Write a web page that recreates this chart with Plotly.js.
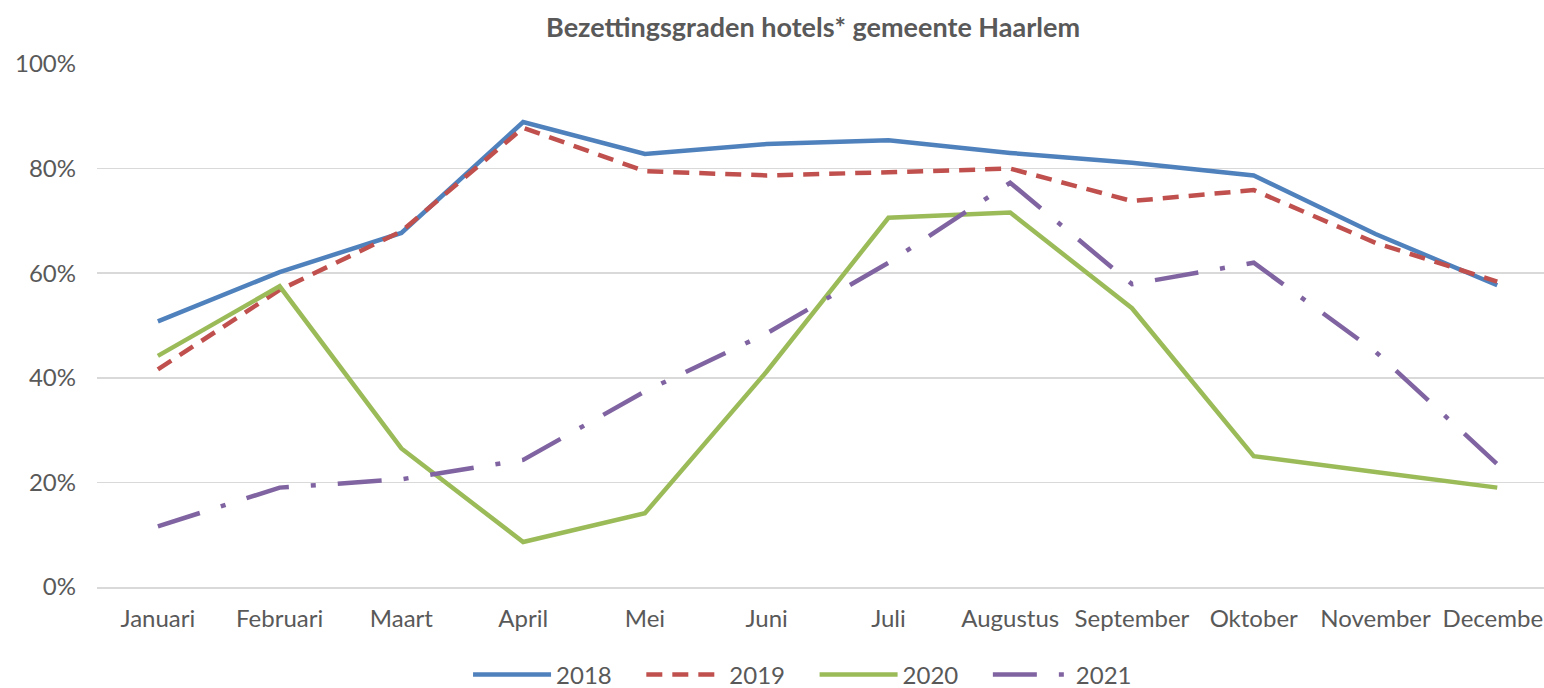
<!DOCTYPE html>
<html>
<head>
<meta charset="utf-8">
<script src="https://cdn.plot.ly/plotly-3.0.1.min.js"></script>
<style>
html,body{margin:0;padding:0;background:#fff;overflow:hidden;}
#chart{width:1544px;height:688px;}
</style>
</head>
<body>
<div id="chart"></div>
<script>
const months = ["Januari","Februari","Maart","April","Mei","Juni","Juli","Augustus","September","Oktober","November","December"];
const y2018 = [0.508,0.602,0.677,0.889,0.828,0.847,0.854,0.830,0.811,0.787,0.675,0.577];
const y2019 = [0.416,0.568,0.680,0.878,0.795,0.787,0.793,0.800,0.738,0.759,0.658,0.584];
const y2020 = [0.442,0.575,0.265,0.086,0.141,0.412,0.706,0.716,0.533,0.250,0.220,0.190];
const y2021 = [0.116,0.190,0.206,0.243,0.374,0.485,0.620,0.773,0.579,0.620,0.450,0.235];
const seriesNames = ["2018","2019","2020","2021"];

const fontFam = "Lato, 'Open Sans', sans-serif";
const grey = "#595959";
const pad = "\u00A0\u00A0\u00A0\u00A0";

function tr(y, name, color, dash){
  return {x: months, y: y, name: name, type: "scatter", mode: "lines",
    line: {color: color, width: 4.5, dash: dash}, hoverinfo: "none"};
}
const data = [
  tr(y2018, seriesNames[0] + pad, "#4F81BD", "solid"),
  tr(y2019, seriesNames[1] + pad, "#C0504D", "16px,10px"),
  tr(y2020, seriesNames[2] + pad, "#9BBB59", "solid"),
  tr(y2021, seriesNames[3], "#8064A2", "44px,22px,5px,22px")
];
const layout = {
  width: 1544, height: 688,
  margin: {l: 97, r: 0, t: 64, b: 101, autoexpand: false},
  paper_bgcolor: "#fff", plot_bgcolor: "#fff",
  font: {family: fontFam, color: grey, size: 24},
  title: {text: "<b>Bezettingsgraden hotels* gemeente Haarlem</b>", font: {size: 27, color: grey, family: fontFam},
    x: 0.5266, xanchor: "center", y: 0.96, yanchor: "middle", xref: "container", yref: "container"},
  showlegend: true,
  legend: {orientation: "h", x: 0.4876, xanchor: "center", y: 0.019, yanchor: "middle", yref: "container",
    font: {size: 24, color: grey, family: fontFam}, itemwidth: 78, traceorder: "normal"},
  xaxis: {type: "category", range: [-0.5, 11.384], showgrid: false, zeroline: false, automargin: false,
    showline: true, linecolor: "#D9D9D9", linewidth: 1.5, ticks: "", ticklabelstandoff: 10,
    tickfont: {size: 24, color: grey, family: fontFam}, fixedrange: true},
  yaxis: {range: [0, 1], tickvals: [0,0.2,0.4,0.6,0.8,1], ticktext: ["0%","20%","40%","60%","80%","100%"],
    showgrid: true, gridcolor: "#D9D9D9", gridwidth: 1.5, zeroline: false, showline: false, ticks: "", automargin: false,
    ticklabelstandoff: 20, tickfont: {size: 24, color: grey, family: fontFam}, fixedrange: true}
};
Plotly.newPlot("chart", data, layout, {displayModeBar: false, staticPlot: true});
</script>
</body>
</html>
